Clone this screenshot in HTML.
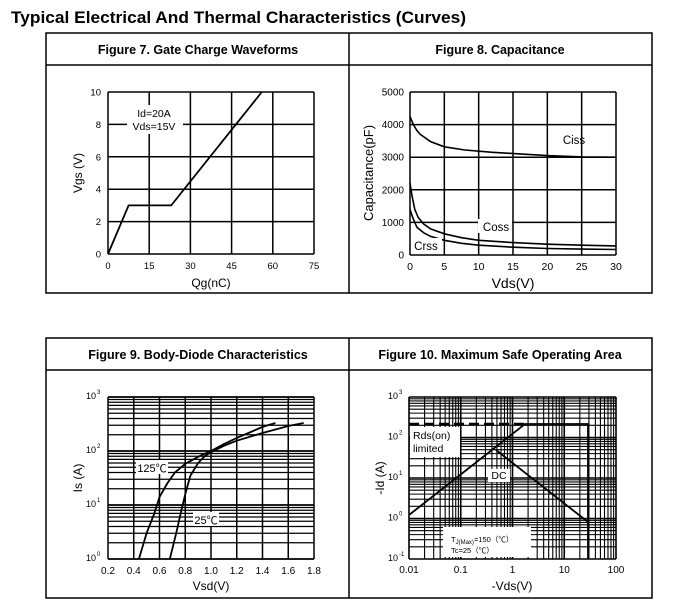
<!DOCTYPE html>
<html><head><meta charset="utf-8"><style>
body{margin:0;background:#fff;}
svg{display:block;font-family:"Liberation Sans","Noto Sans CJK SC",sans-serif;}
</style></head><body>
<svg id="s" width="679" height="611" viewBox="0 0 679 611" xmlns="http://www.w3.org/2000/svg">
<text x="11" y="23" font-size="16.5" font-weight="bold" textLength="455" lengthAdjust="spacingAndGlyphs">Typical Electrical And Thermal Characteristics (Curves)</text>
<g fill="none" stroke="#000" stroke-width="1.5">
<rect x="46" y="33" width="606" height="260"/>
<line x1="349" y1="33" x2="349" y2="293"/>
<line x1="46" y1="65" x2="652" y2="65"/>
<rect x="46" y="338" width="606" height="260"/>
<line x1="349" y1="338" x2="349" y2="598"/>
<line x1="46" y1="370" x2="652" y2="370"/>
</g>
<g font-size="12.5" font-weight="bold" text-anchor="middle">
<text x="198" y="54">Figure 7. Gate Charge Waveforms</text>
<text x="500" y="54">Figure 8. Capacitance</text>
<text x="198" y="359">Figure 9. Body-Diode Characteristics</text>
<text x="500" y="359">Figure 10. Maximum Safe Operating Area</text>
</g>
<g id="g"></g>
</svg>
<script>
var g=document.getElementById('g'),o='';
function L(x1,y1,x2,y2,w){o+='<line x1="'+x1+'" y1="'+y1+'" x2="'+x2+'" y2="'+y2+'" stroke="#000" stroke-width="'+(w||1)+'"/>';}
function T(x,y,t,s,a,ex){o+='<text x="'+x+'" y="'+y+'" font-size="'+s+'" text-anchor="'+(a||'middle')+'" '+(ex||'')+'>'+t+'</text>';}
function P(pts,w,ex){o+='<polyline fill="none" stroke="#000" stroke-width="'+(w||1.6)+'" points="'+pts.map(function(p){return p[0].toFixed(1)+','+p[1].toFixed(1)}).join(' ')+'" '+(ex||'')+'/>';}
function R(x,y,w,h){o+='<rect x="'+x+'" y="'+y+'" width="'+w+'" height="'+h+'" fill="#fff"/>';}
// Fig7
var l=108,r=314,t=92,b=254;
for(var i=0;i<=5;i++){var x=l+(r-l)*i/5;L(x,t,x,b,1.5);T(x,269,i*15,9.5);}
for(var i=0;i<=5;i++){var y=b-(b-t)*i/5;L(l,y,r,y,1.5);T(l-7,y+3.5,i*2,9.5,'end');}
function f7(q,v){return [l+q/75*(r-l),b-v/10*(b-t)];}
P([f7(0,0),f7(7.5,3),f7(23,3),f7(56,10)],1.8);
R(127,105,56,29);T(154,117,'Id=20A',10.5);T(154,130,'Vds=15V',10.5);
T(211,287,'Qg(nC)',12);
T(0,0,'Vgs (V)',12,'middle','transform="translate(82,173) rotate(-90)"');
// Fig8
l=410;r=616;t=92;b=255;
for(var i=0;i<=6;i++){var x=l+(r-l)*i/6;L(x,t,x,b,1.5);T(x,270,i*5,10.5);}
for(var i=0;i<=5;i++){var y=b-(b-t)*i/5;L(l,y,r,y,1.5);T(l-6,y+3.5,i*1000,10,'end');}
function f8(a){return a.map(function(p){return [l+p[0]/30*(r-l),b-p[1]/5000*(b-t)];});}
P(f8([[0,4250],[0.5,4000],[1,3820],[1.5,3700],[3,3480],[5,3320],[8,3220],[12,3150],[16,3100],[20,3050],[25,3010],[30,3000]]));
P(f8([[0,2200],[0.3,1800],[0.7,1400],[1.2,1150],[2,950],[3,800],[5,650],[7.5,530],[10,450],[15,380],[20,330],[25,300],[30,280]]));
P(f8([[0,1400],[0.4,1150],[1,850],[2,680],[3,570],[5,450],[7.5,360],[10,300],[15,240],[20,200],[25,180],[30,170]]));
T(574,144,'Ciss',11.5);R(478,219,34,14);T(496,231,'Coss',11.5);R(412,238,30,14);T(426,250,'Crss',11.5);
T(513,288,'Vds(V)',14);
T(0,0,'Capacitance(pF)',13,'middle','transform="translate(373,173) rotate(-90)"');
// Fig9
l=108;r=314;t=397;b=559;var dy=54;
for(var d=0;d<3;d++){for(var k=2;k<10;k++){var y=b-d*dy-Math.log10(k)*dy;L(l,y,r,y,1.2);}}
for(var i=0;i<=3;i++){var y=b-i*dy;L(l,y,r,y,1.8);T(l-12,y+2,'10',9,'end');T(l-11,y-3,i,6,'start');}
for(var i=0;i<=8;i++){var x=l+(r-l)*i/8;L(x,t,x,b,1.5);T(x,574,(0.2+i*0.2).toFixed(1),10);}
function f9(a){return a.map(function(p){return [l+(p[0]-0.2)/1.6*(r-l),b-Math.log10(p[1])*dy];});}
P(f9([[0.44,1],[0.5,3],[0.56,7],[0.6,14],[0.66,25],[0.72,40],[0.8,58],[0.9,78],[1.0,100],[1.1,135],[1.2,175],[1.3,220],[1.4,280],[1.5,330]]),1.8);
P(f9([[0.68,1],[0.73,3],[0.77,8],[0.8,16],[0.84,35],[0.9,60],[0.95,80],[1.0,95],[1.1,125],[1.2,155],[1.4,215],[1.6,290],[1.72,330]]),1.8);
R(136,460,32,14);T(152,472,'125℃',11);R(193,512,26,14);T(206,524,'25℃',11);
T(211,590,'Vsd(V)',12);
T(0,0,'Is (A)',12,'middle','transform="translate(82,478) rotate(-90)"');
// Fig10
l=409;r=616;t=397;b=559;var dx=(r-l)/4;dy=(b-t)/4;
for(var d=0;d<4;d++){for(var k=2;k<10;k++){var x=l+d*dx+Math.log10(k)*dx;L(x,t,x,b,1.1);var y=b-d*dy-Math.log10(k)*dy;L(l,y,r,y,1.1);}}
var xl=['0.01','0.1','1','10','100'];
for(var i=0;i<=4;i++){var x=l+i*dx;L(x,t,x,b,1.6);T(x,573,xl[i],10);var y=b-i*dy;L(l,y,r,y,1.6);T(l-11,y+2,'10',9,'end');T(l-10,y-3,i-1,6,'start');}
R(410,427,50,30);R(488,469,22,13);R(443,527,88,30);
o+='<line x1="409" y1="424" x2="525" y2="424" stroke="#000" stroke-width="2.5" stroke-dasharray="10,5"/>';
P([[409,515],[525,424],[588,424],[588,559]],1.8);
P([[496,450],[588,522]],1.8);
T(413,439,'Rds(on)',10.5,'start');T(413,452,'limited',10.5,'start');T(499,479,'DC',10.5);
T(451,542,'T<tspan font-size="6" dy="2">J(Max)</tspan><tspan dy="-2">=150（℃）</tspan>',7.5,'start');
T(451,553,'Tc=25（℃）',7.5,'start');
T(512,590,'-Vds(V)',12);
T(0,0,'-Id (A)',12,'middle','transform="translate(384,478) rotate(-90)"');
g.innerHTML=o;
</script>
</body></html>
